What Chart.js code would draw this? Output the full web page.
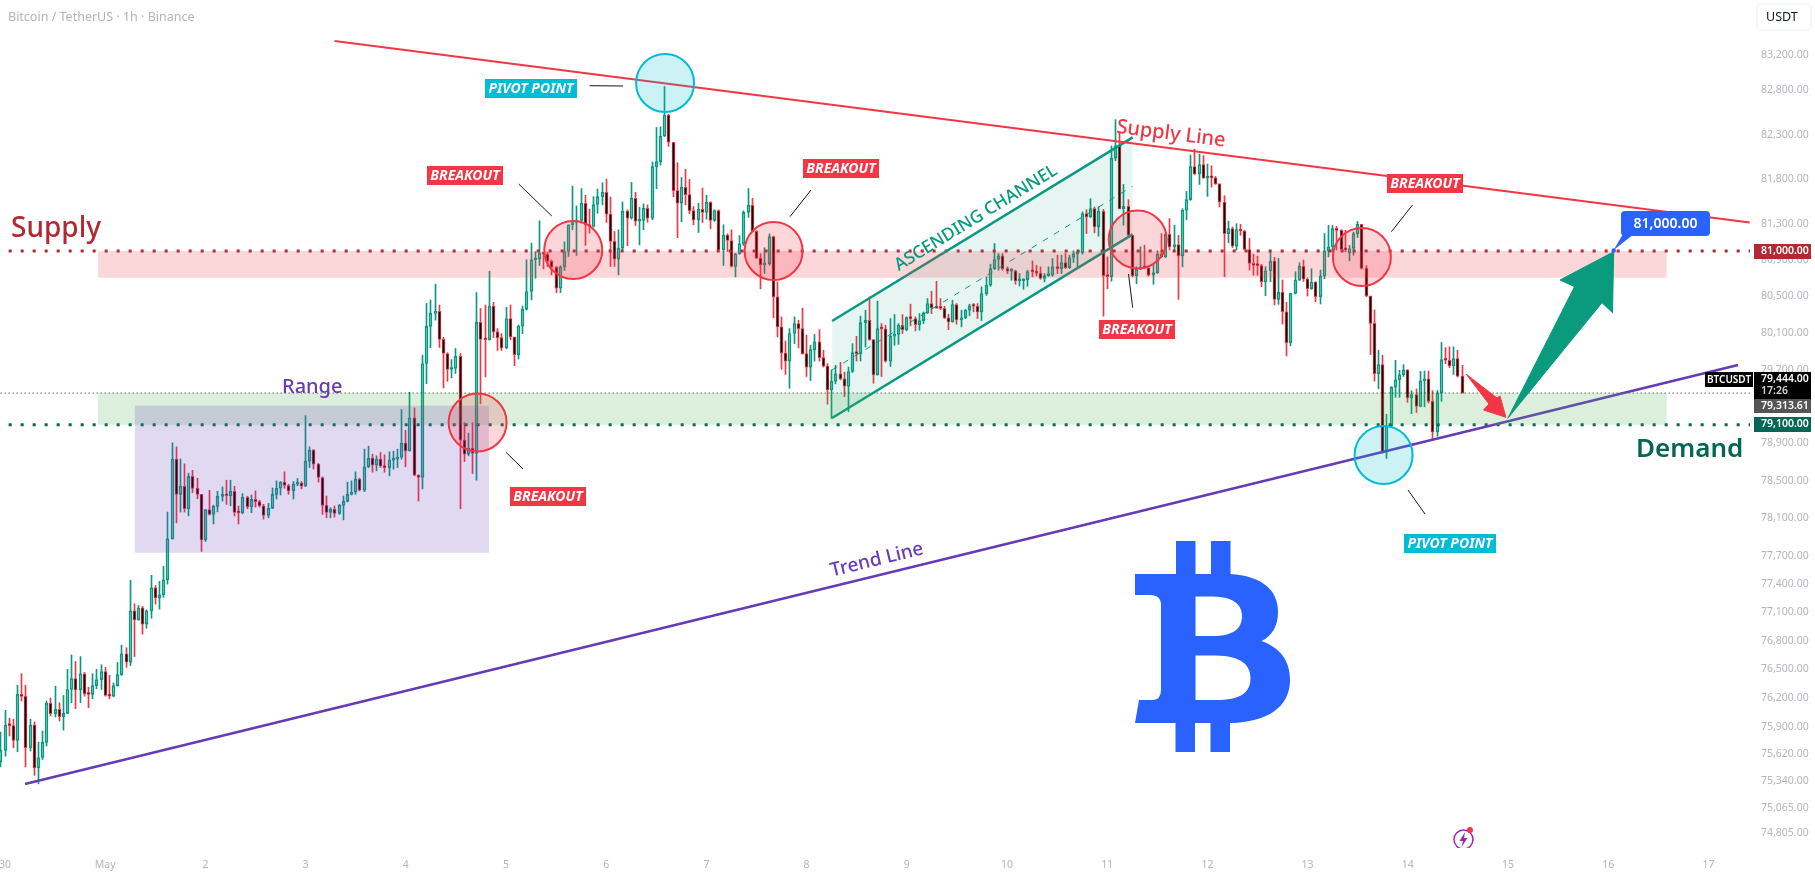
<!DOCTYPE html>
<html>
<head>
<meta charset="utf-8">
<title>BTCUSDT 1h</title>
<script src="https://cdn.jsdelivr.net/npm/chart.js@4/dist/chart.umd.min.js"></script>
<style>
html, body { margin: 0; padding: 0; background: #fff; overflow: hidden; }
canvas { display: block; }
</style>
</head>
<body>
<canvas id="btcChart" width="1815" height="878"></canvas>
<script>
// Hourly candles, one row per day. First candle is the hour before 30 Apr 00:00
const firstHour = -1;
const opens = [
75541,75659,75920,75915,75763,76240,76219,75687,75920,75478,75586,75742,76147,76040,76085,76009,76043,76291,76405,76288,76456,76246,76240,76332,76394,
76477,76229,76222,76332,76446,76663,76577,77116,77020,77148,76975,77116,77359,77253,77285,77444,77879,78730,78353,78439,78199,78547,78417,78353,
77865,78191,78137,78224,78331,78342,78338,78385,78159,78155,78321,78217,78299,78274,78231,78127,78203,78353,78418,78483,78447,78389,78461,78472,
78439,78709,78827,78676,78533,78235,78159,78192,78149,78235,78278,78353,78375,78515,78396,78644,78741,78666,78730,78655,78640,78719,78730,78752,
78903,78820,79175,78558,78533,79766,80171,80314,80335,80029,79875,79700,79711,79843,78935,78784,78849,78791,80215,80029,80025,80394,80111,80048,
79937,80258,80055,79863,80173,80358,80554,80904,80911,80978,80967,80886,80823,80590,80827,80996,81292,81317,81340,81531,81292,81273,81517,81605,
81653,81410,81107,80911,81033,81443,81365,81587,81332,81340,81476,81365,81941,81996,82284,82520,82214,81672,81531,81709,81627,81450,81347,81465,
81428,81542,81340,81450,81015,81177,81118,80830,80971,81081,81429,81509,81220,80923,80847,80861,81161,80495,80166,79880,79792,80093,80202,80147,
79873,79727,79917,80001,79829,79738,79478,79573,79653,79599,79518,79679,79884,79873,80213,80239,80027,79642,80147,80144,79792,80063,80082,80184,
80136,80268,80257,80191,80235,80320,80422,80374,80372,80368,80265,80221,80411,80243,80265,80349,80396,80392,80330,80531,80623,80807,80907,80947,
80807,80778,80781,80671,80674,80685,80774,80770,80756,80697,80730,80733,80826,80807,80874,80818,80929,80973,80984,81416,81379,81471,81269,81442,
80730,80719,82036,82173,81468,81497,81176,80726,80800,80818,80815,80733,80763,80966,80936,81187,81047,81073,80947,81453,81571,81940,81859,81962,
81811,81818,81815,81748,81545,81194,81249,81055,81238,81223,81018,80864,80842,80840,80662,80783,80890,80468,80545,80332,79992,80534,80681,80831,
80692,80585,80659,80497,80725,81003,81047,81249,81230,81018,80981,81029,81194,81296,80809,80505,80204,79654,79753,78804,79090,79508,79588,79643,
79698,79391,79427,79299,79577,79599,79354,79024,79446,79808,79801,79739,79819,79629
];
const highs = [
75850,76074,75992,75982,76336,76456,76336,75982,75954,75745,75860,76171,76202,76326,76154,76229,76501,76652,76584,76635,76470,76315,76456,76501,76549,
76522,76439,76360,76573,76756,76728,77437,77190,77172,77162,77126,77490,77384,77426,77585,78163,78906,78863,78733,78680,78579,78611,78525,78353,
78191,78396,78238,78385,78432,78504,78504,78439,78227,78360,78332,78346,78389,78289,78246,78256,78421,78497,78490,78594,78461,78490,78522,78490,
79200,78863,78834,78684,78540,78335,78210,78228,78246,78335,78483,78497,78594,78526,78838,78870,78784,78766,78802,78777,78809,78816,78838,79266,
79042,79452,79284,78562,79857,80423,80460,80635,80405,80051,79883,79810,79930,79875,79124,79010,79124,80543,80368,80405,80777,80435,80148,80092,
80380,80406,80055,80185,80395,80904,81089,80993,81336,80978,80985,80904,80830,80838,81103,81292,81723,81502,81694,81620,81465,81605,81690,81760,
81801,81601,81218,81236,81546,81458,81764,81653,81487,81524,81513,81993,82380,82387,82843,82528,82214,81985,81819,81911,81797,81494,81531,81701,
81620,81550,81458,81458,81292,81192,81236,80978,81172,81447,81696,81586,81227,80971,81037,81191,81165,80660,80276,80012,80147,80276,80239,80371,
80074,79965,80082,80136,79910,79763,79697,79745,79778,79672,79727,79983,80063,80283,80349,80495,80027,80448,80202,80184,80257,80301,80202,80301,
80276,80415,80276,80312,80330,80477,80557,80667,80477,80393,80305,80459,80422,80349,80356,80415,80422,80422,80604,80715,80855,81084,80973,80973,
80826,80807,80789,80752,80690,80789,80892,80844,80826,80752,80826,80918,80955,80955,80973,80955,81003,80992,81435,81460,81582,81490,81490,81464,
80936,82173,82468,82331,81741,81571,81176,80826,81047,81065,80833,80863,81003,81195,81195,81361,81287,81176,81471,81663,82069,82136,82080,82062,
81970,81951,81830,81748,81615,81333,81267,81304,81296,81230,81139,80967,80945,80853,80827,80992,80930,80919,80681,80435,80534,80772,80871,80901,
80706,80805,80662,80791,81194,81285,81285,81274,81238,81230,81065,81212,81329,81296,80838,80505,80351,79911,79856,79215,79515,79801,79691,79753,
79698,79471,79490,79680,79684,79684,79471,79471,79995,79940,79948,79948,79911,79746
];
const lows = [
75489,75600,75808,75687,75645,76171,75489,75652,75402,75315,75565,75704,76016,76006,75964,75870,76040,76154,76092,76154,76222,76102,76195,76298,76291,
76222,76195,76215,76326,76439,76522,76542,76635,77017,76869,76932,77038,77186,77133,77257,77398,77875,78048,78163,78163,78123,78371,78306,77744,
77850,78130,78037,78166,78281,78245,78231,78123,78037,78145,78199,78156,78217,78217,78088,78102,78200,78303,78346,78418,78353,78303,78443,78411,
78437,78640,78623,78483,78138,78102,78102,78109,78138,78080,78271,78346,78353,78389,78382,78640,78590,78605,78640,78590,78551,78623,78640,78730,
78648,78816,78551,78281,78411,79547,79938,80240,79941,79500,79572,79609,79657,78199,78705,78766,78576,78504,79328,79620,80021,80048,79908,79908,
79926,80026,79742,79815,80092,80351,80461,80701,80841,80804,80830,80738,80542,80542,80786,80941,81236,80952,81310,81063,81199,81266,81421,81513,
81317,80830,80830,80738,81015,81059,81354,81284,81070,81236,81321,81347,81694,81956,82277,82166,81605,81148,81325,81513,81413,81292,81207,81317,
81354,81247,81328,80996,80841,80996,80823,80715,80964,81063,81374,81215,80916,80583,80751,80843,80265,80056,79701,79646,79496,79983,79935,79866,
79624,79580,79792,79792,79727,79324,79170,79544,79588,79405,79243,79668,79792,79792,79946,80019,79551,79639,79624,79781,79734,79965,79975,80093,
80122,80177,80122,80129,80202,80312,80312,80371,80356,80257,80136,80217,80195,80166,80257,80287,80330,80257,80235,80512,80612,80796,80789,80789,
80752,80678,80634,80615,80578,80612,80715,80726,80689,80660,80722,80722,80752,80752,80807,80807,80874,80826,80966,81195,81372,81202,81165,80283,
80586,80667,82007,81468,81287,81158,80715,80641,80796,80804,80722,80634,80752,80929,80929,81010,81010,80468,80826,81350,81564,81848,81741,81811,
81608,81711,81741,81490,80717,81091,81040,81011,81175,81011,80791,80732,80732,80607,80508,80662,80406,80413,80197,79849,79959,80527,80673,80666,
80505,80578,80442,80417,80695,80937,80992,81011,81003,80992,80893,80955,81150,80802,80497,79863,79574,79490,78793,78738,79079,79398,79398,79625,
79343,79222,79233,79295,79295,79336,78929,78976,79354,79764,79720,79647,79618,79444
];
const closes = [
75659,75920,75915,75763,76240,76219,75687,75920,75478,75586,75742,76147,76040,76085,76009,76043,76291,76405,76288,76456,76246,76240,76332,76394,76477,
76229,76222,76332,76446,76663,76577,77116,77020,77148,76975,77116,77359,77253,77285,77444,77879,78730,78353,78439,78199,78547,78417,78353,77865,
78191,78137,78224,78331,78342,78338,78385,78159,78155,78321,78217,78299,78274,78231,78127,78203,78353,78418,78483,78447,78389,78461,78472,78439,
78709,78827,78676,78533,78235,78159,78192,78149,78235,78278,78353,78375,78515,78396,78644,78741,78666,78730,78655,78640,78719,78730,78752,78903,
78820,79175,78558,78533,79766,80171,80314,80335,80029,79875,79700,79711,79843,78935,78784,78849,78791,80215,80029,80025,80394,80111,80048,79937,
80258,80055,79863,80173,80358,80554,80904,80911,80978,80967,80886,80823,80590,80827,80996,81292,81317,81340,81531,81292,81273,81517,81605,81653,
81410,81107,80911,81033,81443,81365,81587,81332,81340,81476,81365,81941,81996,82284,82520,82214,81672,81531,81709,81627,81450,81347,81465,81428,
81542,81340,81450,81015,81177,81118,80830,80971,81081,81429,81509,81220,80923,80847,80861,81161,80495,80166,79880,79792,80093,80202,80147,79873,
79727,79917,80001,79829,79738,79478,79573,79653,79599,79518,79679,79884,79873,80213,80239,80027,79642,80147,80144,79792,80063,80082,80184,80136,
80268,80257,80191,80235,80320,80422,80374,80372,80368,80265,80221,80411,80243,80265,80349,80396,80392,80330,80531,80623,80807,80907,80947,80807,
80778,80781,80671,80674,80685,80774,80770,80756,80697,80730,80733,80826,80807,80874,80818,80929,80973,80984,81416,81379,81471,81269,81442,80730,
80719,82036,82173,81468,81497,81176,80726,80800,80818,80815,80733,80763,80966,80936,81187,81047,81073,80947,81453,81571,81940,81859,81962,81811,
81818,81815,81748,81545,81194,81249,81055,81238,81223,81018,80864,80842,80840,80662,80783,80890,80468,80545,80332,79992,80534,80681,80831,80692,
80585,80659,80497,80725,81003,81047,81249,81230,81018,81014,81029,81194,81296,80809,80505,80204,79654,79753,78804,79090,79508,79588,79643,79698,
79391,79427,79299,79577,79599,79354,79024,79446,79808,79801,79739,79819,79629,79444
];

// Axis ticks
const priceTicks = [83200,82800,82300,81800,81300,80900,80500,80100,79700,79300,78900,78500,78100,77700,77400,77100,76800,76500,76200,75900,75620,75340,75065,74805];
const dayLabels = ['30','May','2','3','4','5','6','7','8','9','10','11','12','13','14','15','16','17'];

// Drawn levels and lines, as [hour, price] pairs
const supplyLevel = 81000;
const demandLevel = 79100;
const lastPrice = 79444;
const supplyLine = [[78.95,83358],[417.9,81317]];
const trendLine = [[4.79,75313],[415.1,79749]];
const channelTop = [[198.1,80230],[270.1,82269]];
const channelMid = [[198.1,79696],[270.1,81721]];
const channelBottom = [[198.1,79174],[270.1,81186]];

// Zones as [fromHour, toHour, topPrice, bottomPrice]
const supplyZone = [22.3,398,81000,80706];
const demandZone = [22.3,398,79448,79100];
const rangeBox = [31.1,115.9,79307,77730];

// Circles as [hour, price]
const redCircles = [[136.1,81012],[113.2,79125],[184.1,81001],[271.3,81128],[325,80935]];
const blueCircles = [[158.1,82881],[330.2,78775]];

const UP = '#089981';
const DOWN = '#f23645';
const AXIS_TEXT = '#b2b5be';
const FONT = '"Noto Sans", "Open Sans", sans-serif';

// Build the candle pieces
const hours = closes.map((c, i) => firstHour + i);
const isUp = closes.map((c, i) => c >= opens[i]);
const candleColors = isUp.map(u => u ? UP : DOWN);
const bodyFill = isUp.map(u => u ? 'rgba(255,255,255,0)' : '#000000');
const bodies = hours.map((h, i) => ({ x: h, y: [opens[i], closes[i]] }));
const upperWicks = hours.map((h, i) => ({ x: h, y: [Math.max(opens[i], closes[i]), highs[i]] }));
const lowerWicks = hours.map((h, i) => ({ x: h, y: [lows[i], Math.min(opens[i], closes[i])] }));

function toPoints(pairs) {
    return pairs.map(p => ({ x: p[0], y: p[1] }));
}

function levelLine(price) {
    return [{ x: -2, y: price }, { x: 419, y: price }];
}

function lineSet(data, color, width, extra) {
    return Object.assign({
        type: 'line',
        data: data,
        borderColor: color,
        borderWidth: width,
        pointRadius: 0,
        tension: 0,
        fill: false,
        order: 0
    }, extra || {});
}

// Axis label overhang must not push the plot area in
function noAxisPadding(axis) {
    axis.paddingLeft = 0;
    axis.paddingRight = 0;
    axis.paddingTop = 0;
    axis.paddingBottom = 0;
}

// Bars sit between pixels otherwise and the thin wicks go blurry
const snapBars = {
    id: 'snapBars',
    beforeDatasetsDraw(chart) {
        chart.data.datasets.forEach((ds, i) => {
            if (ds.type === 'line') return;
            chart.getDatasetMeta(i).data.forEach(el => {
                el.x = Math.floor(el.x) + 0.5;
            });
        });
    }
};

function tagBox(ctx, x, y, w, h, color, text) {
    ctx.fillStyle = color;
    ctx.fillRect(x, y, w, h);
    ctx.fillStyle = '#ffffff';
    ctx.font = 'italic bold 14px ' + FONT;
    ctx.textAlign = 'center';
    ctx.textBaseline = 'middle';
    ctx.fillText(text, x + w / 2, y + h / 2 + 0.5);
}

function connector(ctx, x1, y1, x2, y2) {
    ctx.strokeStyle = '#131722';
    ctx.lineWidth = 1;
    ctx.beginPath();
    ctx.moveTo(x1, y1);
    ctx.lineTo(x2, y2);
    ctx.stroke();
}

function plainText(ctx, text, x, y, font, color, align) {
    ctx.font = font;
    ctx.fillStyle = color;
    ctx.textAlign = align || 'left';
    ctx.textBaseline = 'alphabetic';
    ctx.fillText(text, x, y);
}

function turnedText(ctx, text, x, y, angle, font, color) {
    ctx.save();
    ctx.translate(x, y);
    ctx.rotate(angle);
    ctx.font = font;
    ctx.fillStyle = color;
    ctx.textAlign = 'center';
    ctx.textBaseline = 'middle';
    ctx.fillText(text, 0, 0);
    ctx.restore();
}

function polygon(ctx, points, color, outline) {
    ctx.fillStyle = color;
    ctx.beginPath();
    points.forEach((p, i) => i ? ctx.lineTo(p[0], p[1]) : ctx.moveTo(p[0], p[1]));
    ctx.closePath();
    ctx.fill();
    if (outline) {
        ctx.strokeStyle = color;
        ctx.lineWidth = outline;
        ctx.lineJoin = 'round';
        ctx.stroke();
    }
}

function bitcoinLogo(ctx) {
    const color = '#2962ff';
    ctx.fillStyle = color;
    // the four bars sticking out top and bottom
    ctx.fillRect(1176, 541, 19.5, 34);
    ctx.fillRect(1211, 541, 19.5, 34);
    ctx.fillRect(1175.5, 722, 19.5, 30);
    ctx.fillRect(1210.5, 722, 19.5, 30);
    const b = new Path2D();
    b.moveTo(1135, 574);
    b.lineTo(1230, 574);
    b.bezierCurveTo(1262, 576, 1278, 590, 1278, 612);
    b.bezierCurveTo(1278, 626, 1272, 636, 1261.5, 641);
    b.bezierCurveTo(1280, 648, 1290, 660, 1290, 680);
    b.bezierCurveTo(1290, 708, 1266, 722, 1231, 723);
    b.lineTo(1135, 723);
    b.lineTo(1139, 700);
    b.lineTo(1152, 700);
    b.quadraticCurveTo(1161, 700, 1161, 690);
    b.lineTo(1161, 605);
    b.quadraticCurveTo(1161, 595, 1150, 595);
    b.lineTo(1135, 595);
    b.closePath();
    b.moveTo(1195.5, 596.5);
    b.lineTo(1213, 596.5);
    b.bezierCurveTo(1233, 597, 1242, 604, 1242, 616);
    b.bezierCurveTo(1242, 629, 1233, 636, 1213, 636);
    b.lineTo(1195.5, 636);
    b.closePath();
    b.moveTo(1195.5, 655.5);
    b.lineTo(1216, 655.5);
    b.bezierCurveTo(1240, 656, 1250.5, 664, 1250.5, 678);
    b.bezierCurveTo(1250.5, 693, 1240, 700, 1216, 700);
    b.lineTo(1195.5, 700);
    b.closePath();
    ctx.fill(b, 'evenodd');
}

// All the hand drawn stuff on top of the candles
const drawings = {
    id: 'drawings',
    afterDatasetsDraw(chart) {
        const ctx = chart.ctx;
        const xs = chart.scales.x;
        const ys = chart.scales.y;
        const area = chart.chartArea;

        ctx.save();
        ctx.beginPath();
        ctx.rect(area.left, area.top, area.right - area.left, area.bottom - area.top);
        ctx.clip();

        function zone(z, color) {
            const x1 = xs.getPixelForValue(z[0]);
            const x2 = xs.getPixelForValue(z[1]);
            const y1 = ys.getPixelForValue(z[2]);
            const y2 = ys.getPixelForValue(z[3]);
            ctx.fillStyle = color;
            ctx.fillRect(x1, y1, x2 - x1, y2 - y1);
        }
        zone(supplyZone, 'rgba(242,54,69,0.2)');
        zone(demandZone, 'rgba(76,175,80,0.2)');
        zone(rangeBox, 'rgba(103,58,183,0.2)');

        function circle(c, fill, stroke) {
            ctx.beginPath();
            ctx.arc(xs.getPixelForValue(c[0]), ys.getPixelForValue(c[1]), 29, 0, Math.PI * 2);
            ctx.fillStyle = fill;
            ctx.fill();
            ctx.strokeStyle = stroke;
            ctx.lineWidth = 2;
            ctx.stroke();
        }
        redCircles.forEach(c => circle(c, 'rgba(242,54,69,0.2)', '#f23645'));
        blueCircles.forEach(c => circle(c, 'rgba(0,188,212,0.2)', '#00bcd4'));

        // callout tags and their little lines
        connector(ctx, 589.5, 85.7, 623, 86);
        connector(ctx, 518.7, 184, 551.8, 216);
        connector(ctx, 506, 452.3, 523, 469);
        connector(ctx, 811, 190, 790, 216.7);
        connector(ctx, 1128.5, 274, 1132.7, 307.7);
        connector(ctx, 1412.5, 205, 1391.4, 231.7);
        connector(ctx, 1408, 490, 1425, 514);
        tagBox(ctx, 485, 79, 92, 19, '#00bcd4', 'PIVOT POINT');
        tagBox(ctx, 1404, 534, 92, 19, '#00bcd4', 'PIVOT POINT');
        tagBox(ctx, 427, 166, 76, 19, '#f23645', 'BREAKOUT');
        tagBox(ctx, 510, 487, 76, 19, '#f23645', 'BREAKOUT');
        tagBox(ctx, 803, 159, 76, 19, '#f23645', 'BREAKOUT');
        tagBox(ctx, 1099, 320, 76, 19, '#f23645', 'BREAKOUT');
        tagBox(ctx, 1387, 174, 76, 19, '#f23645', 'BREAKOUT');

        plainText(ctx, 'Supply', 11, 237, '500 28px ' + FONT, '#b22833');
        plainText(ctx, 'Demand', 1636, 457, '600 26px ' + FONT, '#056656');
        plainText(ctx, 'Range', 282, 393, '500 20px ' + FONT, '#673ab7');
        turnedText(ctx, 'Trend Line', 877, 560, -0.239, '500 19px ' + FONT, '#673ab7');
        turnedText(ctx, 'Supply Line', 1171, 134, 0.127, '500 20px ' + FONT, '#f23645');
        turnedText(ctx, 'ASCENDING CHANNEL', 976, 218, -0.55, '500 17.5px ' + FONT, '#089981');

        // forecast arrows
        polygon(ctx, [[1507.8,418.3],[1574.5,286.7],[1560,280],[1613.7,251.7],[1612.5,312.7],[1602,302.7]], '#0a9a7e', 1);
        polygon(ctx, [[1466,374],[1497,398],[1500,396],[1505.9,417.3],[1483.5,410],[1489,404]], '#f23645', 1);

        // target callout
        ctx.fillStyle = '#2962ff';
        ctx.beginPath();
        ctx.moveTo(1623, 234);
        ctx.lineTo(1613.7, 250);
        ctx.lineTo(1634, 234);
        ctx.closePath();
        ctx.fill();
        ctx.beginPath();
        ctx.arc(1613.7, 250.5, 2.2, 0, Math.PI * 2);
        ctx.fill();
        ctx.beginPath();
        ctx.roundRect(1621, 211, 89, 25, 4);
        ctx.fill();
        ctx.fillStyle = '#ffffff';
        ctx.font = '600 14px ' + FONT;
        ctx.textAlign = 'center';
        ctx.textBaseline = 'middle';
        ctx.fillText('81,000.00', 1665.5, 224);

        bitcoinLogo(ctx);

        // lightning badge near the bottom
        ctx.strokeStyle = '#9c27b0';
        ctx.lineWidth = 1.5;
        ctx.beginPath();
        ctx.arc(1463.5, 839.5, 9.5, 0, Math.PI * 2);
        ctx.stroke();
        polygon(ctx, [[1465,832],[1459.5,841],[1463,841],[1461.5,847],[1467.5,838],[1464,838]], '#9c27b0');
        ctx.fillStyle = '#f23645';
        ctx.beginPath();
        ctx.arc(1470, 830, 3, 0, Math.PI * 2);
        ctx.fill();

        plainText(ctx, 'Bitcoin / TetherUS · 1h · Binance', 8, 20.5, '12.5px ' + FONT, AXIS_TEXT);
        ctx.restore();
    },
    afterDraw(chart) {
        const ctx = chart.ctx;
        function priceTag(y, h, color, text, sub) {
            ctx.fillStyle = color;
            ctx.fillRect(1754, y, 57, h);
            ctx.font = '600 10.5px ' + FONT;
            ctx.textAlign = 'left';
            ctx.textBaseline = 'middle';
            ctx.fillStyle = '#ffffff';
            ctx.fillText(text, 1761, y + (sub ? 7.5 : h / 2));
            if (sub) {
                ctx.fillStyle = '#d1d4dc';
                ctx.fillText(sub, 1761, y + 19.5);
            }
        }
        priceTag(244, 15, '#b22833', '81,000.00');
        priceTag(372, 27, '#000000', '79,444.00', '17:26');
        priceTag(399, 14, '#555555', '79,313.61');
        priceTag(417, 15, '#056656', '79,100.00');

        ctx.fillStyle = '#000000';
        ctx.fillRect(1705, 372, 48, 15);
        ctx.fillStyle = '#ffffff';
        ctx.font = '600 10px ' + FONT;
        ctx.textAlign = 'center';
        ctx.textBaseline = 'middle';
        ctx.fillText('BTCUSDT', 1729, 380);

        // currency button top right
        ctx.fillStyle = '#ffffff';
        ctx.strokeStyle = '#f0f3fa';
        ctx.lineWidth = 1.5;
        ctx.beginPath();
        ctx.roundRect(1757, 4, 54, 26, 4);
        ctx.fill();
        ctx.stroke();
        ctx.fillStyle = '#131722';
        ctx.font = '12.5px ' + FONT;
        ctx.textAlign = 'left';
        ctx.fillText('USDT', 1766, 17.5);
    }
};

new Chart(document.getElementById('btcChart').getContext('2d'), {
    type: 'bar',
    data: {
        datasets: [
            lineSet(toPoints(supplyLine), '#f23645', 2),
            lineSet(toPoints(trendLine), '#673ab7', 2.5),
            lineSet(toPoints(channelTop), '#089981', 2.5, { fill: { target: '+2', above: 'rgba(8,153,129,0.1)', below: 'rgba(8,153,129,0.1)' }, backgroundColor: 'rgba(8,153,129,0.1)' }),
            lineSet(toPoints(channelMid), '#089981', 1, { borderDash: [6, 7] }),
            lineSet(toPoints(channelBottom), '#089981', 2.5),
            lineSet(levelLine(supplyLevel), '#b22833', 3, { borderDash: [3, 9] }),
            lineSet(levelLine(demandLevel), '#056656', 3, { borderDash: [3, 9] }),
            lineSet(levelLine(lastPrice), '#131722', 1, { borderDash: [1, 3] }),
            { data: bodies, backgroundColor: bodyFill, borderColor: candleColors, borderWidth: 1, borderSkipped: false, barThickness: 3, minBarLength: 2, grouped: false, order: 1 },
            { data: upperWicks, backgroundColor: candleColors, borderWidth: 0, barThickness: 1, grouped: false, order: 2 },
            { data: lowerWicks, backgroundColor: candleColors, borderWidth: 0, barThickness: 1, grouped: false, order: 2 }
        ]
    },
    options: {
        responsive: false,
        animation: false,
        devicePixelRatio: 1,
        layout: { padding: 0, autoPadding: false },
        plugins: {
            legend: { display: false },
            title: { display: false },
            tooltip: { enabled: false }
        },
        scales: {
            x: {
                type: 'linear',
                offset: false,
                min: -1.198,
                max: 417.96,
                grid: { display: false, drawTicks: false },
                border: { display: false },
                afterBuildTicks: axis => {
                    axis.ticks = dayLabels.map((d, i) => ({ value: i * 24 }));
                },
                afterFit: axis => {
                    axis.height = 30;
                    noAxisPadding(axis);
                },
                ticks: {
                    autoSkip: false,
                    maxRotation: 0,
                    padding: 11,
                    color: AXIS_TEXT,
                    font: { family: FONT, size: 10.5 },
                    callback: (value, index) => dayLabels[index]
                }
            },
            y: {
                type: 'logarithmic',
                position: 'right',
                bounds: 'data',
                min: 74657,
                max: 83827,
                grid: { display: false, drawTicks: false },
                border: { display: false },
                afterBuildTicks: axis => {
                    axis.ticks = priceTicks.map(p => ({ value: p }));
                },
                afterFit: axis => {
                    axis.width = 65;
                    noAxisPadding(axis);
                },
                ticks: {
                    autoSkip: false,
                    padding: 11,
                    color: AXIS_TEXT,
                    font: { family: FONT, size: 10.5 },
                    callback: value => Number(value).toLocaleString('en-US', { minimumFractionDigits: 2, maximumFractionDigits: 2 })
                }
            }
        }
    },
    plugins: [snapBars, drawings]
});
</script>
</body>
</html>
